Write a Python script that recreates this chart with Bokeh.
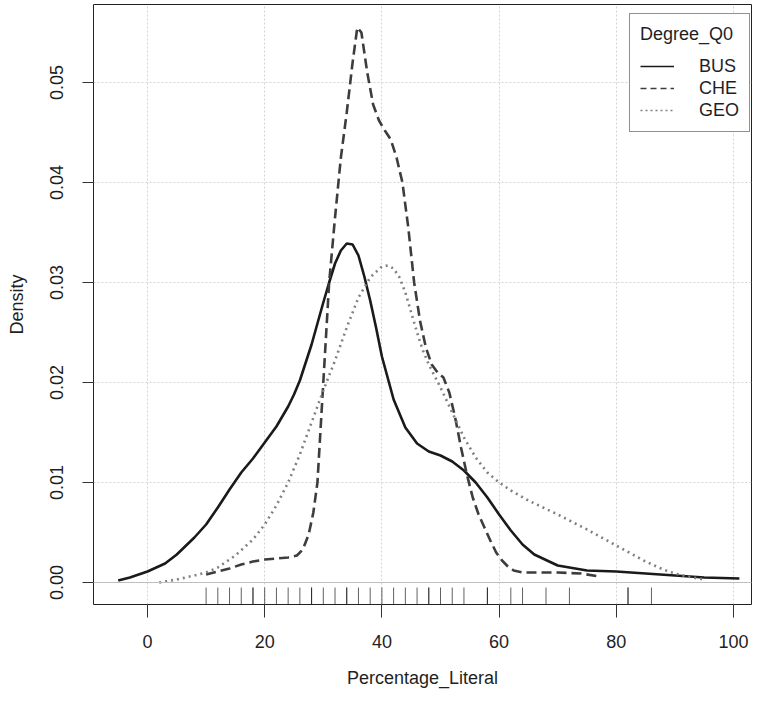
from bokeh.plotting import figure
from bokeh.models import (Range1d, FixedTicker, NumeralTickFormatter, Span,
                          Legend, LegendItem)
from bokeh.embed import file_html
from bokeh.resources import INLINE

# ---------------- data ----------------
bus_x = [-5, -3, 0, 3, 5, 8, 10, 12, 14, 16, 18, 20, 22, 24, 25, 26, 28, 30, 31,
         32, 33, 34, 35, 36, 37, 38, 39, 40, 42, 44, 46, 48, 50, 52, 54, 56, 58,
         60, 62, 64, 66, 70, 75, 80, 85, 90, 95, 101]
bus_y = [0.0002, 0.0005, 0.0011, 0.0019, 0.0028, 0.0045, 0.0058, 0.0075, 0.0093,
         0.0110, 0.0124, 0.0140, 0.0156, 0.0176, 0.0188, 0.0202, 0.0238, 0.0280,
         0.0300, 0.0319, 0.0332, 0.0339, 0.0338, 0.0327, 0.0306, 0.0282, 0.0255,
         0.0226, 0.0183, 0.0155, 0.0139, 0.0131, 0.0127, 0.0121, 0.0112, 0.0100,
         0.0085, 0.0068, 0.0052, 0.0038, 0.0028, 0.0017, 0.0012, 0.0011, 0.0009,
         0.0007, 0.0005, 0.0004]

che_x = [10, 12, 14, 16, 18, 20, 22, 24, 25.5, 26.5, 27.5, 28.3, 29, 29.5, 30,
         30.5, 31, 32, 33, 34, 35, 35.8, 36.5, 37.5, 38.5, 39.5, 40.5, 41.5, 42.5,
         43.5, 44.5, 45.5, 46.5, 47.5, 48.5, 49.5, 50.5, 51.5, 52.5, 53.5, 54.5,
         55.5, 56.5, 57.5, 58.5, 59.5, 60.5, 61.5, 62.5, 64, 66, 70, 74, 77]
che_y = [0.0008, 0.0011, 0.0014, 0.0018, 0.0021, 0.0023, 0.0024, 0.0025, 0.0027,
         0.0033, 0.0048, 0.0070, 0.0100, 0.0150, 0.0200, 0.0250, 0.0300, 0.0365,
         0.0425, 0.0470, 0.0520, 0.0555, 0.0550, 0.0510, 0.0478, 0.0462, 0.0452,
         0.0443, 0.0425, 0.0400, 0.0355, 0.0300, 0.0262, 0.0235, 0.0218, 0.0210,
         0.0205, 0.0190, 0.0165, 0.0135, 0.0108, 0.0085, 0.0068, 0.0055, 0.0042,
         0.0030, 0.0022, 0.0016, 0.0012, 0.0010, 0.0010, 0.0010, 0.0009, 0.0006]

geo_x = [2, 5, 8, 10, 12, 15, 18, 20, 22, 24, 26, 28, 30, 32, 34, 36, 38, 40, 41,
         42, 43, 44, 45, 46, 47, 48, 50, 52, 54, 56, 58, 60, 62, 65, 70, 75, 80,
         85, 88, 90, 93, 95]
geo_y = [0.0000, 0.0003, 0.0007, 0.0010, 0.0015, 0.0027, 0.0043, 0.0058, 0.0077,
         0.0100, 0.0128, 0.0160, 0.0192, 0.0222, 0.0255, 0.0285, 0.0305, 0.0316,
         0.0317, 0.0314, 0.0305, 0.0290, 0.0270, 0.0250, 0.0232, 0.0218, 0.0195,
         0.0170, 0.0145, 0.0125, 0.0110, 0.0100, 0.0092, 0.0082, 0.0068, 0.0053,
         0.0037, 0.0021, 0.0013, 0.0009, 0.0005, 0.0003]

rug_values = [10, 12, 14, 16, 18, 18, 20, 22, 24, 26, 28, 28, 30, 32, 34, 34, 36,
              38, 40, 42, 44, 46, 48, 48, 50, 52, 54, 58, 58, 62, 64, 68, 72,
              82, 82, 86]

x_ticks = [0, 20, 40, 60, 80, 100]
y_ticks = [0.0, 0.01, 0.02, 0.03, 0.04, 0.05]
series_names = ["BUS", "CHE", "GEO"]
legend_title = "Degree_Q0"
x_title = "Percentage_Literal"
y_title = "Density"

# ---------------- figure ----------------
FONT = "Liberation Sans"
TXT = "#1f1f1f"
NAN = float("nan")

p = figure(width=752, height=693, output_backend="svg", toolbar_location=None,
           x_range=Range1d(-9.215, 103.07), y_range=Range1d(-0.0022, 0.0578),
           min_border_left=93, min_border_right=1, min_border_top=4,
           min_border_bottom=89)
p.background_fill_color = "white"
p.border_fill_color = "white"
p.outline_line_color = "#222222"
p.outline_line_width = 1

# grid
for g in (p.xgrid, p.ygrid):
    g.grid_line_color = "#d3d3d3"
    g.grid_line_dash = "2 2"
    g.grid_line_width = 1
p.xgrid.ticker = FixedTicker(ticks=x_ticks)
p.ygrid.ticker = FixedTicker(ticks=y_ticks)

# axes
p.xaxis.ticker = FixedTicker(ticks=x_ticks)
p.yaxis.ticker = FixedTicker(ticks=y_ticks)
p.yaxis.formatter = NumeralTickFormatter(format="0.00")
for ax in (p.xaxis[0], p.yaxis[0]):
    ax.axis_line_color = None
    ax.major_tick_line_color = "#333333"
    ax.major_tick_in = 0
    ax.minor_tick_line_color = None
    ax.major_label_text_font = FONT
    ax.major_label_text_font_size = "18px"
    ax.major_label_text_color = TXT
    ax.axis_label_text_font = FONT
    ax.axis_label_text_font_size = "18px"
    ax.axis_label_text_font_style = "normal"
    ax.axis_label_text_color = TXT
p.xaxis.major_tick_out = 13
p.xaxis.major_label_standoff = 17
p.xaxis.axis_label = x_title
p.xaxis.axis_label_standoff = 17
p.yaxis.major_tick_out = 11
p.yaxis.major_label_standoff = 20
p.yaxis.major_label_orientation = "vertical"
p.yaxis.axis_label = y_title
p.yaxis.axis_label_standoff = 20

# zero reference line
p.add_layout(Span(location=0, dimension="width", line_color="#bebebe",
                  line_width=1))

# rug
p.segment(x0=rug_values, y0=[-0.0005] * len(rug_values),
          x1=rug_values, y1=[-0.0022] * len(rug_values),
          line_color="black", line_alpha=0.62, line_width=1)

# density curves
p.line(bus_x, bus_y, line_color="#1a1a1a", line_width=2.6)
p.line(che_x, che_y, line_color="#3d3d3d", line_width=2.6, line_dash="10 5")
p.line(geo_x, geo_y, line_color="#808080", line_width=2.6, line_dash="2 4")

# legend (thin line samples, renderers carry no visible data)
lb = p.line([NAN], [NAN], line_color="#1a1a1a", line_width=1.3)
lc = p.line([NAN], [NAN], line_color="#3d3d3d", line_width=1.3, line_dash="6 4")
lg = p.line([NAN], [NAN], line_color="#808080", line_width=1.3, line_dash="2 3")
legend = Legend(items=[LegendItem(label=series_names[0], renderers=[lb]),
                       LegendItem(label=series_names[1], renderers=[lc]),
                       LegendItem(label=series_names[2], renderers=[lg])],
                title=legend_title, location=(536, 472),
                padding=10, spacing=0, glyph_width=34, glyph_height=22,
                label_height=22, label_standoff=25, title_standoff=10,
                border_line_color="#222222", border_line_width=1,
                background_fill_color="white", background_fill_alpha=1.0)
legend.title_text_font = FONT
legend.title_text_font_size = "18px"
legend.title_text_font_style = "normal"
legend.title_text_color = TXT
legend.label_text_font = FONT
legend.label_text_font_size = "18px"
legend.label_text_color = TXT
p.add_layout(legend)

open("out.html", "w").write(file_html(p, INLINE))
